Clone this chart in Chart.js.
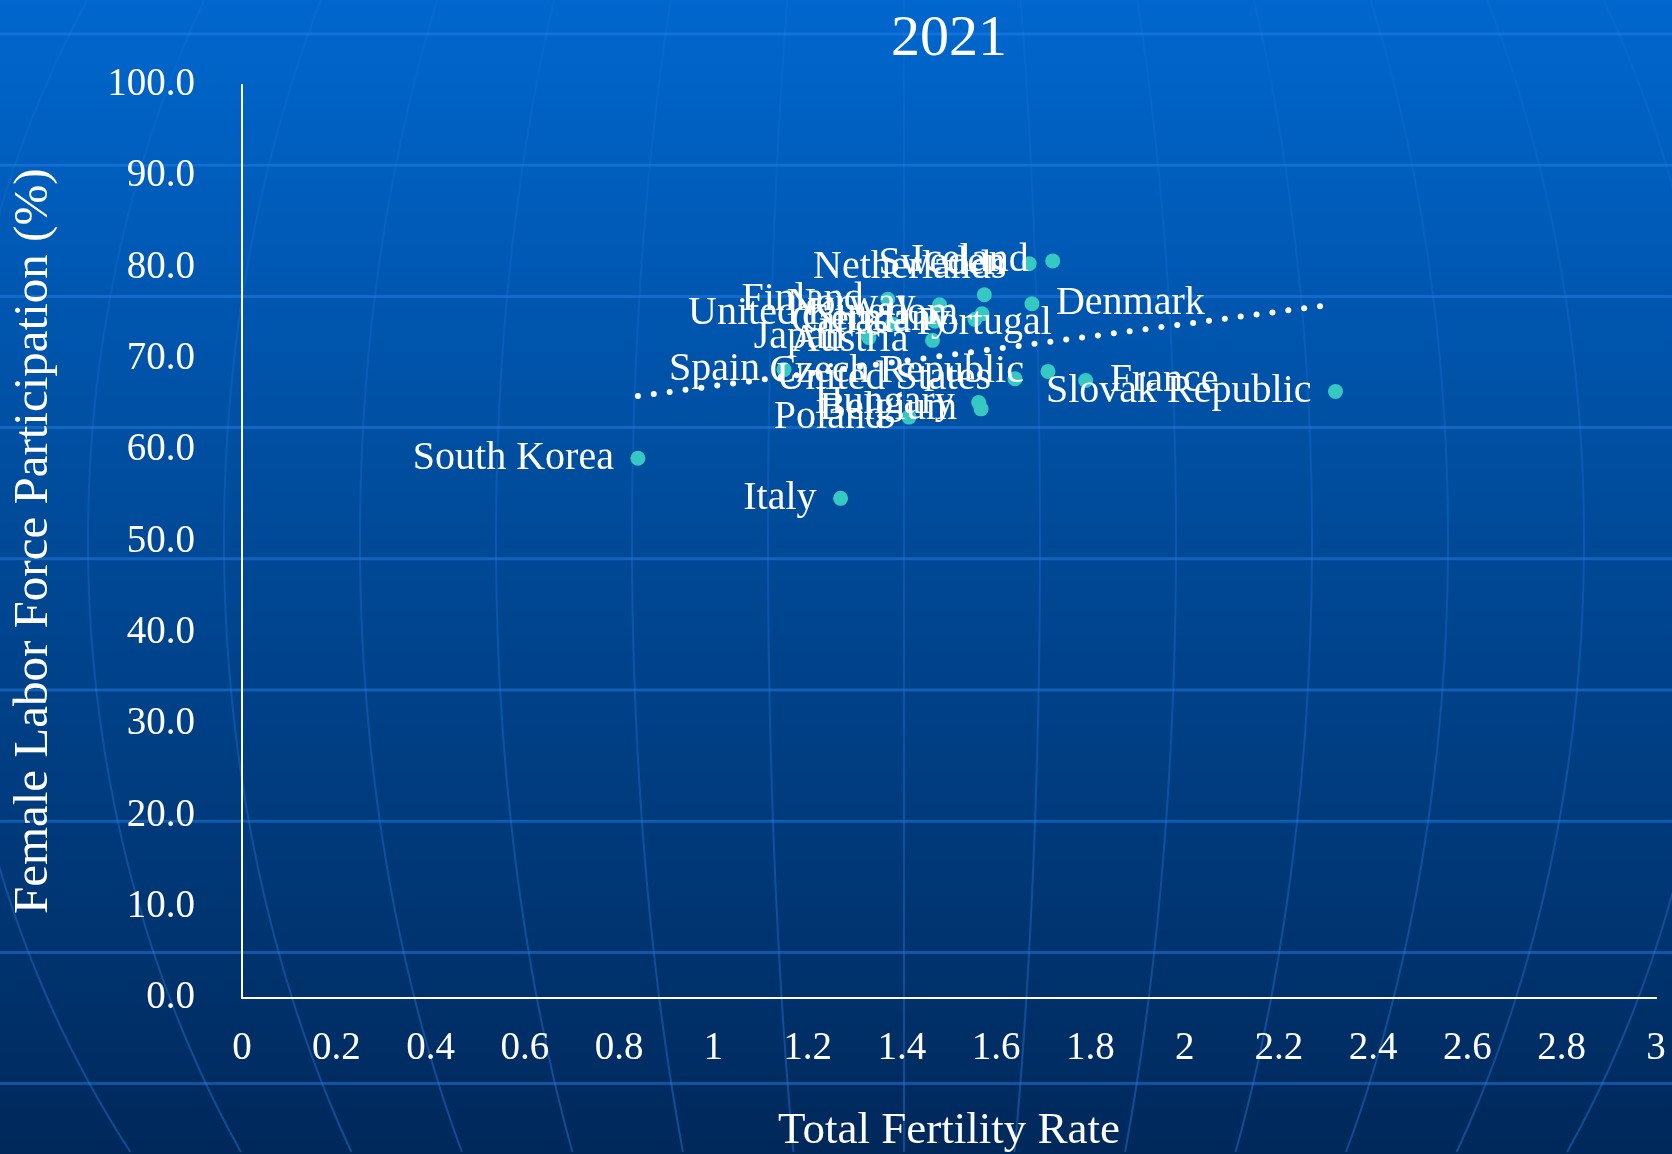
<!DOCTYPE html>
<html>
<head>
<meta charset="utf-8">
<script src="https://cdn.jsdelivr.net/npm/chart.js@4"></script>
<style>
html,body{margin:0;padding:0;background:#00488f;}
canvas{display:block;}
</style>
</head>
<body>
<canvas id="fertilityChart" width="1672" height="1154"></canvas>
<script>

// =========================
// DATA
// =========================

const countries=[
"Iceland","Sweden","Netherlands","Denmark","Finland","Norway",
"United Kingdom","Germany","Canada","Portugal","Japan","Austria",
"Czech Republic","Spain","United States","France","Slovak Republic",
"Hungary","Belgium","Poland","South Korea","Italy"
]

// total fertility rate
const fertility=[
1.72,1.67,1.575,1.676,1.37,1.48,
1.57,1.555,1.47,1.38,1.33,1.465,
1.71,1.15,1.64,1.79,2.32,
1.563,1.568,1.415,0.84,1.27
]

// female labor force participation (%)
const participation=[
80.7,80.4,77.0,76.0,76.5,75.9,
74.9,74.3,74.1,73.8,72.3,72.0,
68.6,68.8,67.8,67.6,66.4,
65.2,64.5,63.6,59.1,54.7
]

// dotted trend line (start and end)
const trendX=[0.84,2.31]
const trendY=[65.9,75.9]

// axis ranges: min, max, step
const xRange=[0,3,0.2]
const yRange=[0,100,10]

// labels that sit to the right of their dot, and hand-moved labels
const rightLabels=["Denmark","France","Portugal"]
const labelShift={"Netherlands":[46,-27]}

const serif="'Liberation Serif', 'DejaVu Serif', serif"
Chart.defaults.font.family=serif


// =========================
// BACKGROUND (gradient + globe lines)
// =========================

const backdrop={
id:"backdrop",
beforeDraw(chart){
const {ctx,width,height}=chart
ctx.save()
let g=ctx.createLinearGradient(0,0,0,height)
g.addColorStop(0,"#0067ce")
g.addColorStop(1,"#00285a")
ctx.fillStyle=g
ctx.fillRect(0,0,width,height)

// latitude lines
ctx.strokeStyle="rgba(40,130,235,0.45)"
ctx.lineWidth=3
for(let y=34;y<height;y+=131.2){
ctx.beginPath()
ctx.moveTo(0,y)
ctx.lineTo(width,y)
ctx.stroke()
}

// meridians, fainter near the top
let mg=ctx.createLinearGradient(0,0,0,height)
mg.addColorStop(0,"rgba(40,130,235,0.12)")
mg.addColorStop(1,"rgba(40,130,235,0.4)")
ctx.strokeStyle=mg
ctx.lineWidth=2
for(let k=-7;k<=7;k++){
ctx.beginPath()
for(let y=0;y<=height;y+=6){
let f=Math.sqrt(1-Math.pow((y-540)/1050,2))
let x=904+k*136*f
if(y===0)ctx.moveTo(x,y)
else ctx.lineTo(x,y)
}
ctx.stroke()
}
ctx.restore()
}
}


// =========================
// COUNTRY LABELS
// =========================

const pointLabels={
id:"pointLabels",
afterDatasetsDraw(chart){
const {ctx,scales:{x,y}}=chart
ctx.save()
ctx.font="40px "+serif
ctx.fillStyle="#ffffff"
ctx.textBaseline="middle"
countries.forEach((name,i)=>{
let px=x.getPixelForValue(fertility[i])
let py=y.getPixelForValue(participation[i])
let side=rightLabels.includes(name)?1:-1
let shift=labelShift[name]||[0,0]
ctx.textAlign=side>0?"left":"right"
ctx.fillText(name,px+side*24+shift[0],py+shift[1])
})
ctx.restore()
}
}


// =========================
// CHART
// =========================

new Chart(document.getElementById("fertilityChart"),{

type:"scatter",

data:{
datasets:[
{
label:"Trend",
data:trendX.map((v,i)=>({x:v,y:trendY[i]})),
showLine:true,
pointRadius:0,
borderColor:"#ffffff",
borderWidth:6,
borderDash:[0,16],
borderCapStyle:"round",
fill:false
},
{
label:"Countries",
data:fertility.map((v,i)=>({x:v,y:participation[i]})),
backgroundColor:"#36c8c2",
borderWidth:0,
pointRadius:7.5,
pointHoverRadius:7.5
}
]
},

options:{
responsive:false,
animation:false,
events:[],
layout:{padding:{left:0,right:16,top:0,bottom:0}},
plugins:{
legend:{display:false},
tooltip:{enabled:false},
title:{
display:true,
text:"2021",
color:"#ffffff",
fullSize:false,
font:{family:serif,size:58,weight:"normal"},
padding:{top:5,bottom:10}
}
},
scales:{
x:{
type:"linear",
min:xRange[0],
max:xRange[1],
afterFit(s){
s.height=156
s.paddingLeft=0
s.paddingRight=0
},
grid:{display:false,drawTicks:false},
border:{display:true,color:"#ffffff",width:2},
ticks:{
stepSize:xRange[2],
autoSkip:false,
maxRotation:0,
color:"#ffffff",
padding:27,
font:{size:39},
callback:v=>String(Number(v.toFixed(1)))
},
title:{
display:true,
text:"Total Fertility Rate",
color:"#ffffff",
font:{size:45},
padding:{top:0,bottom:-4}
}
},
y:{
type:"linear",
min:yRange[0],
max:yRange[1],
afterFit(s){s.width=242},
grid:{display:false,drawTicks:false},
border:{display:true,color:"#ffffff",width:2},
ticks:{
stepSize:yRange[2],
color:"#ffffff",
padding:47,
font:{size:39},
callback:v=>v.toFixed(1)
},
title:{
display:true,
text:"Female Labor Force Participation (%)",
color:"#ffffff",
font:{size:49},
padding:{top:5,bottom:0}
}
}
}
},

plugins:[backdrop,pointLabels]

})

</script>
</body>
</html>
